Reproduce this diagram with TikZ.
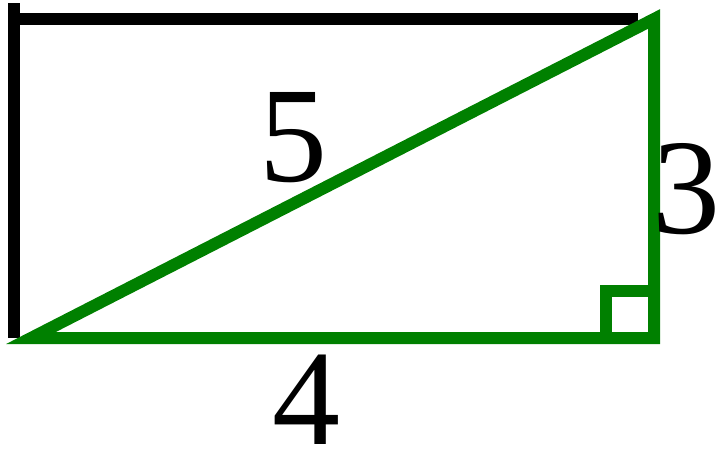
\documentclass[tikz,border=0pt]{standalone}
\usepackage{fontspec}
\setmainfont{Liberation Serif}
\definecolor{tgreen}{RGB}{0,128,0}
\begin{document}
\begin{tikzpicture}[x=1pt,y=-1pt,
  blackline/.style={line width=12pt, black},
  greenline/.style={line width=12pt, tgreen, line join=miter},
  num/.style={font=\fontsize{136}{140}\selectfont, inner sep=0pt, anchor=center}]
\useasboundingbox (0,0) rectangle (716,448);
\coordinate (vtop) at (14,3);
\coordinate (vbot) at (14,338);
\coordinate (hl) at (14,19);
\coordinate (hr) at (638,19);
\draw[blackline] (vtop) -- (vbot);
\draw[blackline] (hl) -- (hr);
\coordinate (A) at (31,338);
\coordinate (B) at (654,338);
\coordinate (C) at (654,19);
\draw[greenline] (A) -- (B) -- (C) -- cycle;
\coordinate (s1) at (606,338);
\coordinate (s2) at (606,291);
\coordinate (s3) at (654,291);
\draw[greenline] (s1) -- (s2) -- (s3);
\node[num] (five) at (293.5,137.5) {5};
\node[num] (three) at (686,189) {3};
\node[num] (four) at (306.5,400) {4};
\end{tikzpicture}
\end{document}
